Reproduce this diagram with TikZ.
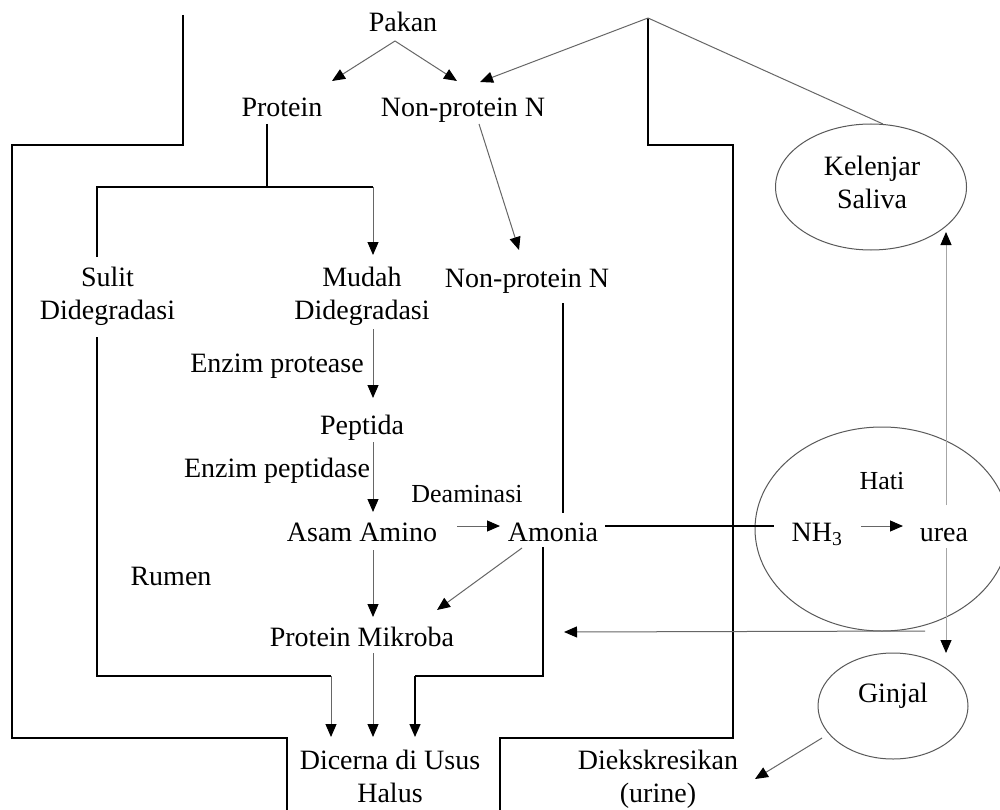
\documentclass[tikz,border=0pt]{standalone}
\usepackage{fontspec}
\setmainfont{Liberation Serif}
\usetikzlibrary{arrows.meta,shapes.geometric}
\begin{document}
\begin{tikzpicture}[x=1pt,y=-1pt,
 lbl/.style={font=\fontsize{28}{33}\selectfont, inner sep=0pt, anchor=base, align=center},
 slbl/.style={lbl, font=\fontsize{26}{31}\selectfont},
 wall/.style={draw=black, line width=1.8pt},
 blk/.style={draw=black, line width=1.4pt},
 thin/.style={draw=black!60, line width=1pt},
 pale/.style={draw=black!35, line width=1pt},
 arr/.style={-{Triangle[length=13pt,width=11pt,color=black]}},
 oval/.style={ellipse, draw=black!65, line width=1pt, inner sep=0pt}]
\useasboundingbox (0,0) rectangle (1000,810);
\clip (0,0) rectangle (1000,810);
\fill[white] (0,0) rectangle (1000,810);

% ---------------- text nodes ----------------
\node[lbl] (pakan) at (403,32) {Pakan};
\node[lbl] (protein) at (282,117) {Protein};
\node[lbl] (npn1) at (463,117) {Non-protein N};
\node[lbl] (kelt) at (872,209) {Kelenjar\\Saliva};
\node[lbl] (sulit) at (107.5,319) {Sulit\\Didegradasi};
\node[lbl] (mudah) at (362,319) {Mudah\\Didegradasi};
\node[lbl] (npn2) at (527,287) {Non-protein N};
\node[lbl] (ep) at (277,372) {Enzim protease};
\node[lbl] (pep) at (362,434) {Peptida};
\node[lbl] (epd) at (277,477) {Enzim peptidase};
\node[slbl] (hati) at (882,489) {Hati};
\node[slbl] (deam) at (467,502) {Deaminasi};
\node[lbl] (aa) at (362,541) {Asam Amino};
\node[lbl] (amonia) at (553,541) {Amonia};
\node[lbl] (nh3) at (817,541) {NH\textsubscript{3}};
\node[lbl] (urea) at (944,541) {urea};
\node[lbl] (rumen) at (171,585) {Rumen};
\node[lbl] (pm) at (362,646) {Protein Mikroba};
\node[lbl] (ginjal) at (893,702) {Ginjal};
\node[lbl] (dic) at (390,802) {Dicerna di Usus\\Halus};
\node[lbl] (diek) at (658,802) {Diekskresikan\\(urine)};

% ---------------- ovals ----------------
\node[oval, minimum width=191pt, minimum height=126pt] (kel) at (871,187) {};
\node[oval, minimum width=254pt, minimum height=204pt] (hatio) at (882,529) {};
\node[oval, minimum width=150pt, minimum height=106pt] (gin) at (893,706) {};

% ---------------- coordinates ----------------
\coordinate (apex) at (648,18);
\coordinate (pk) at (395,41);
\coordinate (protTip) at (332,81);
\coordinate (npnTipA) at (457,81);
\coordinate (npnTipB) at (480,82);
\coordinate (kelTop) at (883,124);
\coordinate (npn1Out) at (479,124);
\coordinate (npn2Tip) at (519,250);
\coordinate (protOut) at (267,124);
\coordinate (split) at (267,187);
\coordinate (splitL) at (97,187);
\coordinate (splitR) at (373,187);
\coordinate (sulitTop) at (97,257);
\coordinate (mudahTip) at (373,255);
\coordinate (sulitOut) at (97,337);
\coordinate (sulitCorner) at (97,676);
\coordinate (sulitEnd) at (331,676);
\coordinate (dicTipL) at (331,737);
\coordinate (mudahOut) at (373,329);
\coordinate (pepTip) at (373,398);
\coordinate (pepOut) at (373,442);
\coordinate (aaTip) at (373,512);
\coordinate (aaOut) at (457,526);
\coordinate (amTip) at (500,526);
\coordinate (npn2Out) at (563,303);
\coordinate (amIn) at (563,513);
\coordinate (amOutR) at (605,526);
\coordinate (nh3In) at (774,526);
\coordinate (nh3Out) at (861,526);
\coordinate (ureaTip) at (903,526);
\coordinate (ureaUp) at (946,505);
\coordinate (kelTip) at (946,232);
\coordinate (ureaDown) at (946,548);
\coordinate (ginTip) at (946,653);
\coordinate (hatiOut) at (925,631);
\coordinate (pmTipR) at (564,632);
\coordinate (amOutD) at (522,548);
\coordinate (pmTipD) at (437,610);
\coordinate (aaOutD) at (373,550);
\coordinate (pmTip) at (373,617);
\coordinate (pmOut) at (373,653);
\coordinate (dicTipM) at (373,737);
\coordinate (amDown) at (543,547);
\coordinate (amCorner) at (543,676);
\coordinate (amEnd) at (415,676);
\coordinate (dicTipR) at (415,737);
\coordinate (ginOut) at (822,738);
\coordinate (diekTip) at (755,779);

% ---------------- walls ----------------
\draw[wall] (183,15) -- (183,145) -- (12,145) -- (12,738) -- (287,738) -- (287,812);
\draw[wall] (apex) -- (648,145) -- (733,145) -- (733,738) -- (500,738) -- (500,812);

% ---------------- black lines ----------------
\draw[blk] (protOut) -- (split);
\draw[blk] (sulitTop) -- (splitL) -- (splitR);
\draw[blk] (sulitOut) -- (sulitCorner) -- (sulitEnd);
\draw[blk] (amDown) -- (amCorner) -- (amEnd);
\draw[blk] (npn2Out) -- (amIn);
\draw[blk] (amOutR) -- (nh3In);

% ---------------- arrows ----------------
\draw[thin,arr] (pk) -- (protTip);
\draw[thin,arr] (pk) -- (npnTipA);
\draw[thin,arr] (apex) -- (npnTipB);
\draw[thin] (apex) -- (kelTop);
\draw[thin,arr] (npn1Out) -- (npn2Tip);
\draw[thin,arr] (splitR) -- (mudahTip);
\draw[thin,arr] (mudahOut) -- (pepTip);
\draw[thin,arr] (pepOut) -- (aaTip);
\draw[thin,arr] (aaOut) -- (amTip);
\draw[thin,arr] (nh3Out) -- (ureaTip);
\draw[pale,arr] (ureaUp) -- (kelTip);
\draw[pale,arr] (ureaDown) -- (ginTip);
\draw[thin,arr] (hatiOut) -- (pmTipR);
\draw[thin,arr] (amOutD) -- (pmTipD);
\draw[thin,arr] (aaOutD) -- (pmTip);
\draw[thin,arr] (pmOut) -- (dicTipM);
\draw[thin,arr] (sulitEnd) -- (dicTipL);
\draw[blk,arr] (amEnd) -- (dicTipR);
\draw[thin,arr] (ginOut) -- (diekTip);
\end{tikzpicture}
\end{document}
